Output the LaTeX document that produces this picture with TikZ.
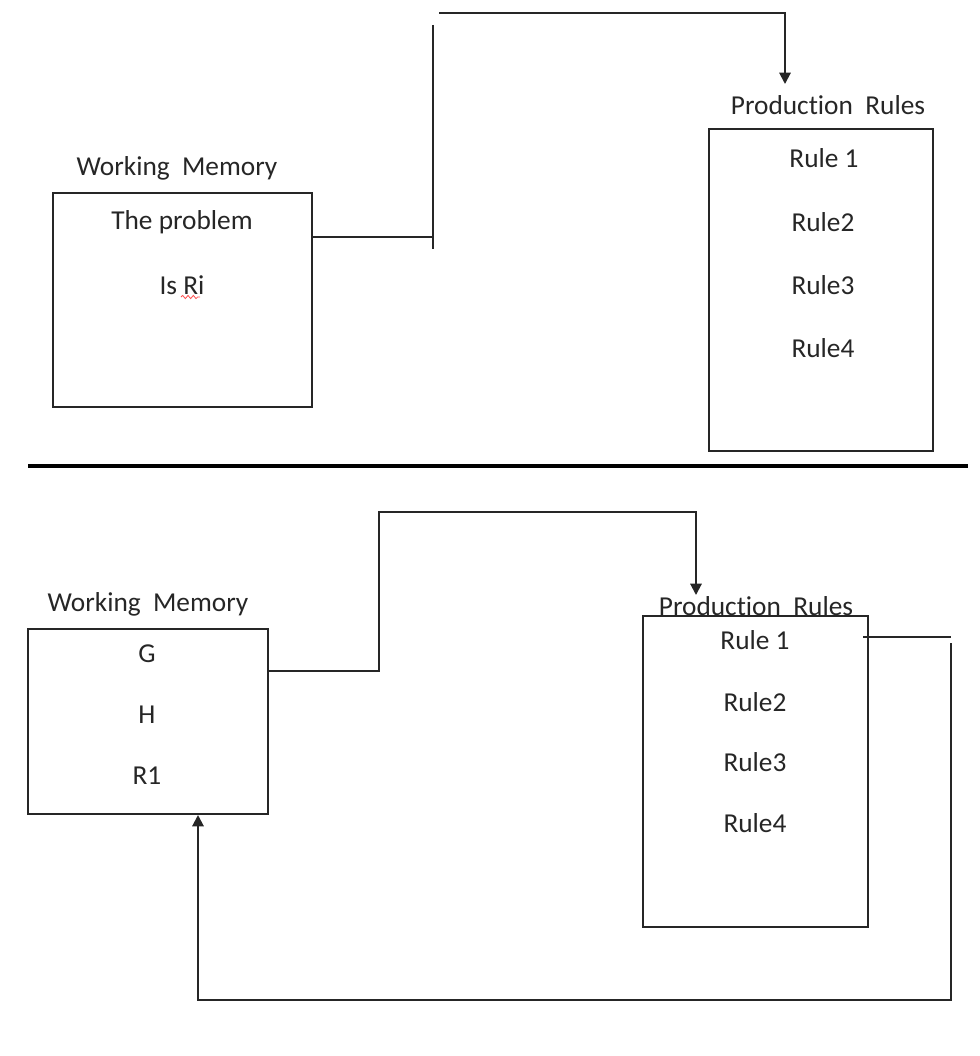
\documentclass[tikz,border=0pt]{standalone}
\usepackage{fontspec}
\setmainfont[Ligatures=NoCommon]{Carlito}
\usetikzlibrary{arrows.meta,decorations.pathmorphing}

\tikzset{
  memtext/.style={font=\fontsize{20.5}{24}\selectfont, text=black!85},
  box/.style={draw=black!85, line width=1.5pt, inner sep=0pt},
  wire/.style={draw=black!85, line width=1.5pt},
  arr/.style={wire, -{Triangle[width=8.5pt,length=8.5pt]}}
}

\begin{document}
\begin{tikzpicture}[x=0.75pt,y=0.75pt,yscale=-1,xscale=1]
\useasboundingbox (0,0) rectangle (980,1056);

%Shape: Rectangle [working memory, top]
\node[box, minimum width=194.25pt, minimum height=160.5pt] (wm1) at (182.5,300) {};
%Shape: Rectangle [production rules, top]
\node[box, minimum width=168pt, minimum height=241.5pt] (pr1) at (821,290) {};

% Text Node
\node[memtext] (wm1lbl) at (177,168) {Working\ \ Memory};
% Text Node
\node[memtext] (prob) at (182,222) {The problem};
% Text Node
\node[memtext] (isri) at (182,285) {Is Ri};
\draw[red!70, line width=0.6pt, decorate, decoration={snake, amplitude=1.2pt, segment length=4pt}] (181,297) -- (200,297);

% Text Node
\node[memtext] (pr1lbl) at (828,105) {Production\ \ Rules};
% Text Node
\node[memtext] (pr1a) at (824,158) {Rule 1};
% Text Node
\node[memtext] (pr1b) at (823,222) {Rule2};
% Text Node
\node[memtext] (pr1c) at (823,285) {Rule3};
% Text Node
\node[memtext] (pr1d) at (823,348) {Rule4};

%Straight Lines [top connector]
\coordinate (t0) at (433,25);
\coordinate (t1) at (433,237);
\coordinate (t2) at (433,249);
\coordinate (t3) at (439,13);
\coordinate (t4) at (785,13);
\coordinate (t5) at (785,84);
\draw[wire] (wm1.east |- t1) -- (t1);
\draw[wire] (t0) -- (t2);
\draw[arr] (t3) -- (t4) -- (t5);

%Straight Lines [separator]
\draw[line width=3pt] (28,466) -- (968,466);

%Shape: Rectangle [working memory, bottom]
\node[box, minimum width=180pt, minimum height=138.75pt] (wm2) at (148,721.5) {};
%Shape: Rectangle [production rules, bottom]
\node[box, minimum width=168.75pt, minimum height=233.25pt] (pr2) at (755.5,771.5) {};

% Text Node
\node[memtext] (wm2lbl) at (148,604) {Working\ \ Memory};
% Text Node
\node[memtext] (wmg) at (147,654) {G};
% Text Node
\node[memtext] (wmh) at (147,715) {H};
% Text Node
\node[memtext] (wmr) at (147,776) {R1};

% Text Node
\node[memtext] (pr2lbl) at (756,606) {Production\ \ Rules};
% Text Node
\node[memtext] (pr2a) at (755,640) {Rule 1};
% Text Node
\node[memtext] (pr2b) at (755,702) {Rule2};
% Text Node
\node[memtext] (pr2c) at (755,762) {Rule3};
% Text Node
\node[memtext] (pr2d) at (755,823) {Rule4};

%Straight Lines [bottom connector]
\coordinate (b1) at (379,671);
\coordinate (b2) at (379,512);
\coordinate (b3) at (696,512);
\coordinate (b4) at (696,595);
\draw[arr] (wm2.east |- b1) -- (b1) -- (b2) -- (b3) -- (b4);

%Straight Lines [return loop]
\coordinate (r0) at (863,637);
\coordinate (r1) at (951,637);
\coordinate (r2) at (951,643);
\coordinate (r3) at (951,1000);
\coordinate (r4) at (198,1000);
\draw[wire] (r0) -- (r1);
\draw[arr] (r2) -- (r3) -- (r4) -- (r4 |- wm2.south);

\end{tikzpicture}
\end{document}
